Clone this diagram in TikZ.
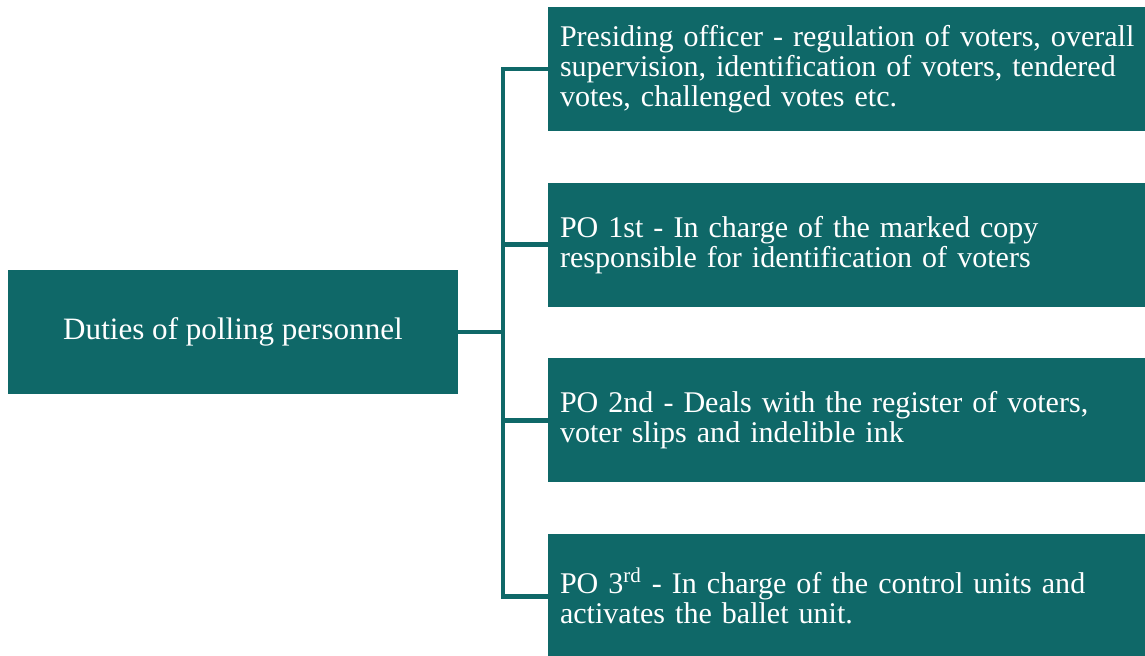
\documentclass[tikz,border=0pt]{standalone}
\usepackage{fontspec}
\setmainfont{Liberation Serif}
\usepackage{tikz}
\usetikzlibrary{positioning, calc}
\usepackage{xcolor}
\definecolor{dutyTeal}{HTML}{0F6868}
\tikzset{
  rootbox/.style={fill=dutyTeal, text=white, minimum width=9cm, minimum height=2.48cm,
                  font=\fontsize{17.7}{17}\selectfont, inner sep=0pt},
  taskbox/.style={fill=dutyTeal, text=white, minimum width=11.94cm, minimum height=2.48cm,
                  text width=11.46cm, inner xsep=0.24cm, inner ysep=0pt, align=left,
                  font=\fontsize{17.1}{17}\selectfont},
  link/.style={draw=dutyTeal, line width=2.8pt},
}

\begin{document}
\begin{tikzpicture}[node distance=1.02cm]
\useasboundingbox (0,0) rectangle (22.9,13.1);
\node[rootbox] (duty) at (4.66,6.46) {Duties of polling personnel};
\node[taskbox] (pres) at (16.93,11.72) {\mbox{Presiding officer - regulation of voters, overall}\\
  supervision, identification of voters, tendered\\ votes, challenged votes etc.};
\node[taskbox, below=of pres] (po1st) {PO 1st - In charge of the marked copy\\
  responsible for identification of voters};
\node[taskbox, below=of po1st] (po2nd) {PO 2nd - Deals with the register of voters,\\
  voter slips and indelible ink};
\node[taskbox, below=of po2nd] (po3rd) {PO 3\textsuperscript{rd} - In charge of the control units and\\
  activates the ballet unit.};
% trunk halfway between the boxes
\coordinate (trunk) at ($(duty.east)!0.5!(pres.west |- duty.east)$);
\draw[link] (pres.west) -| (trunk) |- (po3rd.west);
\draw[link] (duty.east) -- (trunk);
\draw[link] (trunk |- po1st.west) -- (po1st.west);
\draw[link] (trunk |- po2nd.west) -- (po2nd.west);
\end{tikzpicture}
\end{document}
